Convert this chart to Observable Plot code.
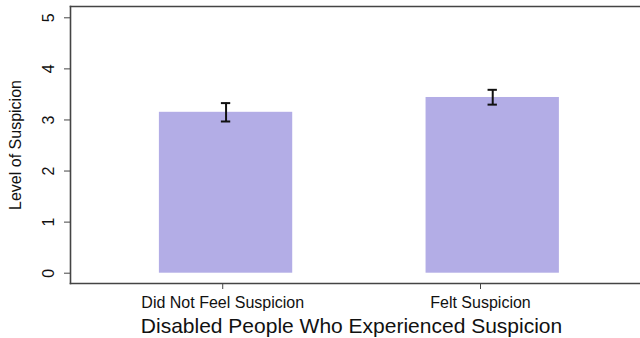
<!DOCTYPE html>
<html>
<head>
<meta charset="utf-8">
<script src="https://cdn.jsdelivr.net/npm/d3@7"></script>
<script src="https://cdn.jsdelivr.net/npm/@observablehq/plot@0.6"></script>
<style>
  html, body { margin: 0; padding: 0; background: #fff; }
  #chart svg { display: block; font-family: "Liberation Sans", Arial, Helvetica, sans-serif; }
</style>
</head>
<body>
<div id="chart"></div>
<script>
// Mean suspicion level by group, with error bar bounds
const categories = ["Did Not Feel Suspicion", "Felt Suspicion"];
const means = [3.15, 3.44];
const lower = [2.97, 3.30];
const upper = [3.33, 3.59];
// Bar centres and category tick positions along the x axis (barplot units)
const barCenters = [0.7, 1.9];
const tickPositions = [0.685, 1.845];
const yTicks = [0, 1, 2, 3, 4, 5];
const xTitle = "Disabled People Who Experienced Suspicion";
const yTitle = "Level of Suspicion";

const data = categories.map((c, i) => ({
  category: c, mean: means[i], lo: lower[i], hi: upper[i], pos: barCenters[i]
}));

const halfBar = 0.3;   // half bar width
const halfCap = 0.021; // half error-bar cap width
const ink = "#111";
const frameColor = "#444";

const chart = Plot.plot({
  width: 640,
  height: 338,
  marginLeft: 70,
  marginRight: 0,
  marginTop: 6,
  marginBottom: 55,
  x: {type: "linear", domain: [0, 2.565]},
  y: {domain: [0, 5], range: [272.7, 17.3]},
  marks: [
    Plot.rectY(data, {
      x1: d => d.pos - halfBar, x2: d => d.pos + halfBar,
      y1: 0, y2: "mean", fill: "#b3ade6"
    }),
    Plot.ruleX(data, {x: "pos", y1: "lo", y2: "hi", stroke: ink, strokeWidth: 2}),
    Plot.ruleY(data, {y: "lo", x1: d => d.pos - halfCap, x2: d => d.pos + halfCap, stroke: ink, strokeWidth: 2}),
    Plot.ruleY(data, {y: "hi", x1: d => d.pos - halfCap, x2: d => d.pos + halfCap, stroke: ink, strokeWidth: 2}),
    // frame on left, top and bottom
    Plot.frame({anchor: "left", stroke: frameColor, strokeWidth: 1.6}),
    Plot.frame({anchor: "top", stroke: frameColor, strokeWidth: 1.6}),
    Plot.frame({anchor: "bottom", stroke: frameColor, strokeWidth: 1.6}),
    // y axis: ticks plus rotated labels
    Plot.axisY({ticks: yTicks, tickSize: 6, tickFormat: () => "", label: null, stroke: frameColor}),
    Plot.text(yTicks, {
      y: d => d, frameAnchor: "left", dx: -22, rotate: -90,
      text: d => String(d), fontSize: 16, fill: ink, textAnchor: "middle", lineAnchor: "middle"
    }),
    // x axis: category ticks and labels
    Plot.axisX({
      ticks: tickPositions, tickSize: 6, tickPadding: 7, label: null,
      tickFormat: (d, i) => categories[i], fontSize: 16, fill: ink, stroke: frameColor
    }),
    Plot.text([xTitle], {
      frameAnchor: "bottom", dx: -4, dy: 43, lineAnchor: "middle", textAnchor: "middle",
      fontSize: 21, fill: ink
    }),
    Plot.text([yTitle], {
      frameAnchor: "left", dx: -55, rotate: -90, lineAnchor: "middle", textAnchor: "middle",
      fontSize: 16, fill: ink
    })
  ]
});

document.getElementById("chart").appendChild(chart);
</script>
</body>
</html>
